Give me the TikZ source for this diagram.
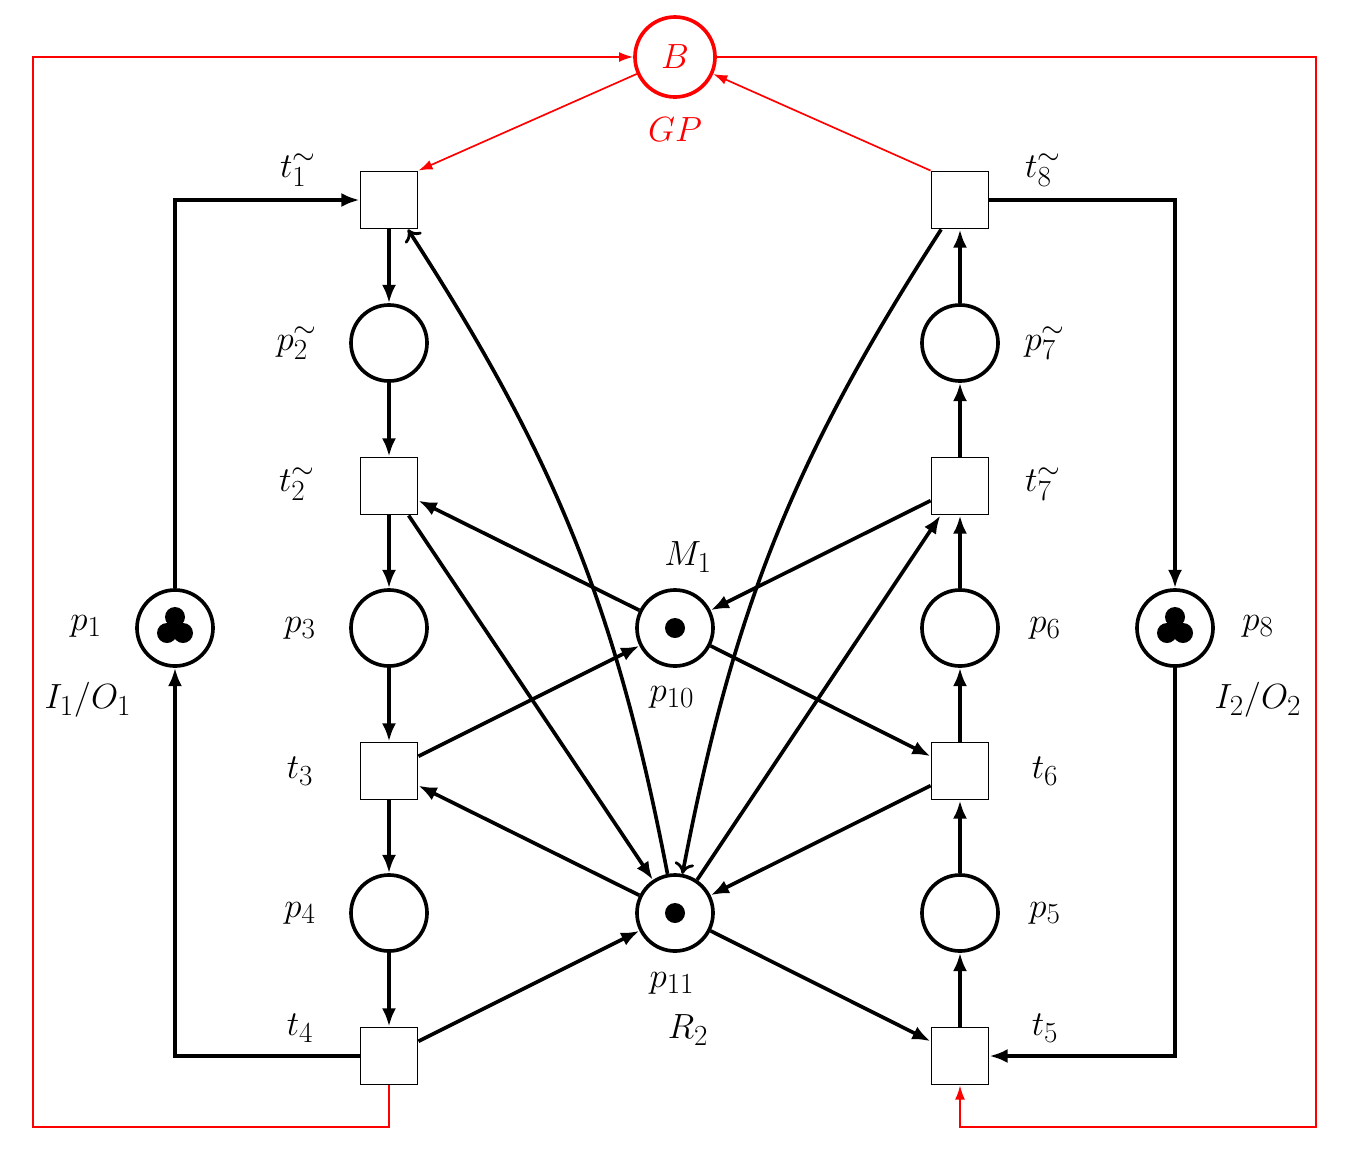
\documentclass[tikz,border=0pt]{standalone}
\usetikzlibrary{arrows.meta}
\begin{document}
\begin{tikzpicture}[x=0.025cm,y=-0.025cm,
 every node/.style={font=\fontsize{30}{34}\selectfont},
 pl/.style={circle,draw,line width=2.6pt,minimum size=1.9cm,inner sep=0pt},
 tr/.style={rectangle,draw,line width=1.3pt,minimum size=1.425cm,inner sep=0pt,fill=white},
 arc/.style={line width=2.6pt,-{Latex[length=13pt,width=10pt]}},
 oarc/.style={line width=2.6pt,-{To[length=8pt,width=14pt,line width=2pt]}},
 rarc/.style={red,line width=1.2pt,-{Latex[length=10pt,width=7pt]}},
 tok/.style={fill=black,draw=none}]
\useasboundingbox (0,0) rectangle (1348,1165);
% places
\node[pl] (p1) at (175,628) {};
\node[pl] (p2) at (389,343) {};
\node[pl] (p3) at (389,628) {};
\node[pl] (p4) at (389,913) {};
\node[pl] (p10) at (675,628) {};
\node[pl] (p11) at (675,913) {};
\node[pl] (p5) at (960,913) {};
\node[pl] (p6) at (960,628) {};
\node[pl] (p7) at (960,343) {};
\node[pl] (p8) at (1175,628) {};
\node[pl,draw=red,text=red,minimum size=2cm] (B) at (675,57) {$B$};
% transitions
\node[tr] (t1) at (389,200) {};
\node[tr] (t2) at (389,486) {};
\node[tr] (t3) at (389,771) {};
\node[tr] (t4) at (389,1056) {};
\node[tr] (t5) at (960,1056) {};
\node[tr] (t6) at (960,771) {};
\node[tr] (t7) at (960,486) {};
\node[tr] (t8) at (960,200) {};
% tokens
\foreach \p in {(675,628),(675,913)} \fill[tok] \p circle[radius=10];
\foreach \p in {(175,617),(167,633),(183,633),(1175,617),(1167,633),(1183,633)} \fill[tok] \p circle[radius=10];
% labels
\node at (298,170) {$t_1^{\sim}$};
\node at (297,343) {$p_2^{\sim}$};
\node at (297,484) {$t_2^{\sim}$};
\node at (300,628) {$p_3$};
\node at (300,771) {$t_3$};
\node at (300,913) {$p_4$};
\node at (300,1028) {$t_4$};
\node at (86,626) {$p_1$};
\node at (88,700) {$I_1/O_1$};
\node at (688,557) {$M_1$};
\node at (672,697) {$p_{10}$};
\node at (672,983) {$p_{11}$};
\node at (688,1030) {$R_2$};
\node[red] at (675,130) {$GP$};
\node at (1043,170) {$t_8^{\sim}$};
\node at (1045,343) {$p_7^{\sim}$};
\node at (1043,484) {$t_7^{\sim}$};
\node at (1045,628) {$p_6$};
\node at (1045,771) {$t_6$};
\node at (1045,913) {$p_5$};
\node at (1045,1028) {$t_5$};
\node at (1258,626) {$p_8$};
\node at (1258,700) {$I_2/O_2$};
% vertical chains
\draw[arc] (t1) -- (p2);
\draw[arc] (p2) -- (t2);
\draw[arc] (t2) -- (p3);
\draw[arc] (p3) -- (t3);
\draw[arc] (t3) -- (p4);
\draw[arc] (p4) -- (t4);
\draw[arc] (t5) -- (p5);
\draw[arc] (p5) -- (t6);
\draw[arc] (t6) -- (p6);
\draw[arc] (p6) -- (t7);
\draw[arc] (t7) -- (p7);
\draw[arc] (p7) -- (t8);
% outer loops
\draw[arc] (p1) |- (t1);
\draw[arc] (t4) -| (p1);
\draw[arc] (t8) -| (p8);
\draw[arc] (p8) |- (t5);
% resources
\draw[arc] (p10) -- (t2);
\draw[arc] (t3) -- (p10);
\draw[arc] (p10) -- (t6);
\draw[arc] (t7) -- (p10);
\draw[arc] (p11) -- (t3);
\draw[arc] (t4) -- (p11);
\draw[arc] (p11) -- (t5);
\draw[arc] (t6) -- (p11);
\draw[arc] (t2) -- (p11);
\draw[arc] (p11) -- (t7);
\draw[oarc] (p11) to[bend right=11] (t1);
\draw[oarc] (t8) to[bend right=11] (p11);
% red
\draw[rarc] (t8.north west) -- (B);
\draw[rarc] (B) -- (t1.north east);
\coordinate (a1) at (389,1127);
\coordinate (a2) at (33,1127);
\coordinate (a3) at (33,57);
\draw[rarc] (t4.south) -- (a1) -- (a2) -- (a3) -- (B.west);
\coordinate (b1) at (1316,57);
\coordinate (b2) at (1316,1127);
\coordinate (b3) at (960,1127);
\draw[rarc] (B.east) -- (b1) -- (b2) -- (b3) -- (t5.south);
\end{tikzpicture}
\end{document}
